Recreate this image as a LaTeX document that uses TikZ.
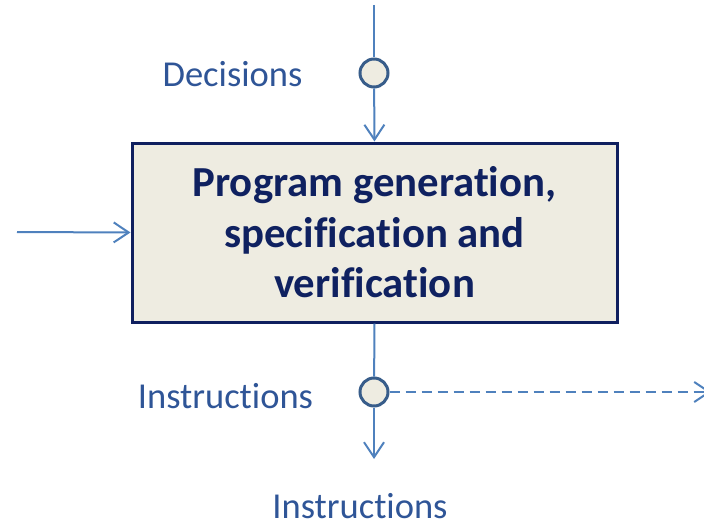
\documentclass[tikz,border=0pt]{standalone}
\usepackage{fontspec}
\setmainfont{Carlito}[Ligatures=NoCommon]
\usetikzlibrary{arrows.meta}
\definecolor{lineblue}{HTML}{4F81BD}
\definecolor{labelblue}{HTML}{2F5597}
\definecolor{boxfill}{HTML}{EEECE1}
\definecolor{boxedge}{HTML}{0F1F5F}
\definecolor{circedge}{HTML}{385D8A}
\definecolor{boxtext}{HTML}{0F2160}
\tikzset{
  flow/.style={draw=lineblue, line width=2pt, -{Straight Barb[length=15pt,width=20pt,line width=2pt]}},
  plainflow/.style={draw=lineblue, line width=2pt},
  junction/.style={circle, draw=circedge, fill=boxfill, line width=3pt, minimum size=28pt, inner sep=0pt},
  mainbox/.style={draw=boxedge, fill=boxfill, line width=3pt, minimum width=485pt, minimum height=179pt, inner sep=0pt, align=center, text=boxtext, font=\fontsize{42.8}{50.5}\selectfont\bfseries},
  lbl/.style={text=labelblue, font=\fontsize{36.5}{42}\selectfont, inner sep=0pt}
}
\begin{document}
\begin{tikzpicture}[x=1pt,y=-1pt]
\useasboundingbox (0,0) rectangle (704,527);
\node[mainbox] (box) at (374.5,232.5) {Program generation,\\specification and\\verification};
\coordinate (top) at (374,5);
\node[junction] (c1) at (374,73) {};
\coordinate (left) at (17,232);
\node[junction] (c2) at (374,392) {};
\coordinate (bot) at (374,459);
\coordinate (right) at (711,392);
\draw[plainflow] (top) -- (c1);
\draw[flow] (c1) -- (box.north);
\draw[flow] (left) -- (box.west);
\draw[plainflow] (box.south) -- (c2);
\draw[flow] (c2) -- (bot);
\draw[flow, dash pattern=on 10pt off 6pt] (c2) -- (right);
\node[lbl] (dec) at (232.5,74) {Decisions};
\node[lbl] (ins1) at (225.5,396) {Instructions};
\node[lbl] (ins2) at (360,506) {Instructions};
\end{tikzpicture}
\end{document}
